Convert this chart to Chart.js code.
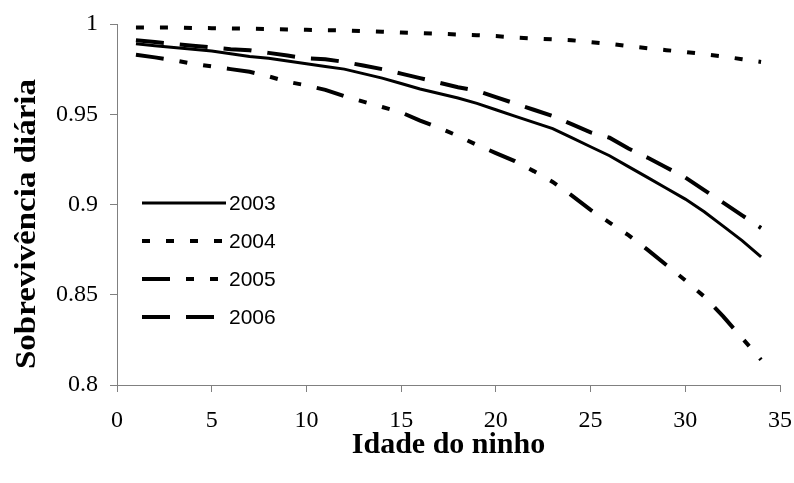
<!DOCTYPE html>
<html lang="pt">
<head>
<meta charset="utf-8">
<title>Sobrevivência diária</title>
<script src="https://cdn.jsdelivr.net/npm/chart.js@4.4.1/dist/chart.umd.min.js"></script>
<style>
  html, body { margin: 0; padding: 0; background: #fff; }
  #wrap { width: 794px; height: 483px; position: relative; }
</style>
</head>
<body>
<div id="wrap"><canvas id="chart"></canvas></div>
<script>
// ---------- data ----------
const nestAge = [1, 2, 3, 4, 5, 6, 7, 8, 9, 10, 11, 12, 13, 14, 15, 16, 17,
  18, 19, 20, 21, 22, 23, 24, 25, 26, 27, 28, 29, 30, 31, 32, 33, 34];

const years = ["2003", "2004", "2005", "2006"];

const s2003 = [0.989, 0.988, 0.987, 0.986, 0.985, 0.9835, 0.982, 0.981, 0.9795,
  0.978, 0.9765, 0.975, 0.9725, 0.970, 0.967, 0.964, 0.9615, 0.959, 0.956,
  0.9525, 0.949, 0.9455, 0.942, 0.937, 0.932, 0.927, 0.921, 0.915, 0.909,
  0.903, 0.896, 0.888, 0.880, 0.871];

const s2004 = [0.998, 0.998, 0.998, 0.9978, 0.9977, 0.9975, 0.9974, 0.9972,
  0.997, 0.9968, 0.9966, 0.9964, 0.996, 0.9957, 0.9953, 0.995, 0.9946, 0.9942,
  0.9938, 0.9933, 0.9925, 0.992, 0.9915, 0.991, 0.990, 0.989, 0.9877, 0.9866,
  0.9855, 0.9845, 0.9833, 0.982, 0.9805, 0.979];

const s2005 = [0.983, 0.9815, 0.980, 0.978, 0.9765, 0.975, 0.9735, 0.971, 0.968,
  0.966, 0.9635, 0.960, 0.957, 0.954, 0.951, 0.9465, 0.9425, 0.938, 0.933,
  0.9285, 0.924, 0.9185, 0.9125, 0.905, 0.897, 0.890, 0.883, 0.875, 0.8665,
  0.858, 0.849, 0.838, 0.826, 0.814];

const s2006 = [0.991, 0.990, 0.989, 0.988, 0.987, 0.986, 0.9855, 0.984, 0.9825,
  0.981, 0.9805, 0.979, 0.977, 0.975, 0.9725, 0.970, 0.9675, 0.965, 0.963,
  0.9595, 0.956, 0.9525, 0.949, 0.9445, 0.940, 0.937, 0.931, 0.926, 0.9205,
  0.915, 0.908, 0.901, 0.894, 0.887];

const xTicks = [0, 5, 10, 15, 20, 25, 30, 35];
const yTicks = [0.8, 0.85, 0.9, 0.95, 1];

const xTitle = "Idade do ninho";
const yTitle = "Sobrevivência diária";

// ---------- styles ----------
const SERIF = "'Liberation Serif', 'Times New Roman', serif";
const SANS = "'Liberation Sans', Arial, sans-serif";
const AXIS = "#808080";

const styles = [
  { data: s2003, dash: [], width: 3 },
  { data: s2004, dash: [8, 16], width: 4 },
  { data: s2005, dash: [28, 16, 8, 16, 8, 16], width: 4 },
  { data: s2006, dash: [28, 16], width: 4 },
];

const datasets = years.map((y, i) => ({
  label: y,
  data: nestAge.map((x, j) => ({ x, y: styles[i].data[j] })),
  borderColor: "#000",
  borderWidth: styles[i].width,
  borderDash: styles[i].dash,
  borderCapStyle: "butt",
  pointRadius: 0,
  tension: 0,
  fill: false,
}));

// ---------- legend (drawn inside the plot) + y title ----------
const overlay = {
  id: "overlay",
  afterDraw(chart) {
    const ctx = chart.ctx;
    const rows = [203, 241, 279, 317];
    ctx.save();
    ctx.font = "21px " + SANS;
    ctx.fillStyle = "#000";
    ctx.textBaseline = "middle";
    datasets.forEach((ds, i) => {
      ctx.beginPath();
      ctx.setLineDash(ds.borderDash);
      ctx.lineWidth = ds.borderWidth;
      ctx.strokeStyle = "#000";
      ctx.moveTo(142, rows[i]);
      ctx.lineTo(226, rows[i]);
      ctx.stroke();
      ctx.fillText(ds.label, 229, rows[i] + 1);
    });
    ctx.restore();

    // rotated axis title, a bit stretched like the original
    ctx.save();
    ctx.translate(27, 224);
    ctx.rotate(-Math.PI / 2);
    ctx.scale(1.1, 1);
    ctx.font = "bold 30px " + SERIF;
    ctx.textAlign = "center";
    ctx.textBaseline = "middle";
    ctx.fillStyle = "#000";
    ctx.fillText(yTitle, 0, 0);
    ctx.restore();
  },
};

// ---------- chart ----------
new Chart(document.getElementById("chart"), {
  type: "line",
  data: { datasets },
  plugins: [overlay],
  options: {
    responsive: true,
    maintainAspectRatio: false,
    animation: false,
    layout: { padding: { top: 24, right: 14, left: 0, bottom: 0 } },
    plugins: { legend: { display: false }, tooltip: { enabled: false } },
    scales: {
      x: {
        type: "linear",
        min: 0,
        max: 35,
        afterFit: (s) => {
          s.height = 98;
          s.paddingLeft = 0;
          s.paddingRight = 0;
        },
        afterBuildTicks: (s) => { s.ticks = xTicks.map((v) => ({ value: v })); },
        border: { color: AXIS, width: 1 },
        grid: { drawOnChartArea: false, color: AXIS, tickLength: 7 },
        ticks: { color: "#000", padding: 14, font: { family: SERIF, size: 24 } },
        title: {
          display: true,
          text: xTitle,
          color: "#000",
          font: { family: SERIF, size: 30, weight: "bold" },
          padding: { top: 0, bottom: 20 },
        },
      },
      y: {
        min: 0.8,
        max: 1,
        afterFit: (s) => {
          s.width = 117;
          s.paddingTop = 0;
          s.paddingBottom = 0;
        },
        afterBuildTicks: (s) => { s.ticks = yTicks.map((v) => ({ value: v })); },
        border: { color: AXIS, width: 1 },
        grid: { drawOnChartArea: false, color: AXIS, tickLength: 7 },
        ticks: {
          color: "#000",
          padding: 12,
          font: { family: SERIF, size: 24 },
          callback: (v) => String(+v.toFixed(2)),
        },
        title: { display: false },
      },
    },
  },
});
</script>
</body>
</html>
